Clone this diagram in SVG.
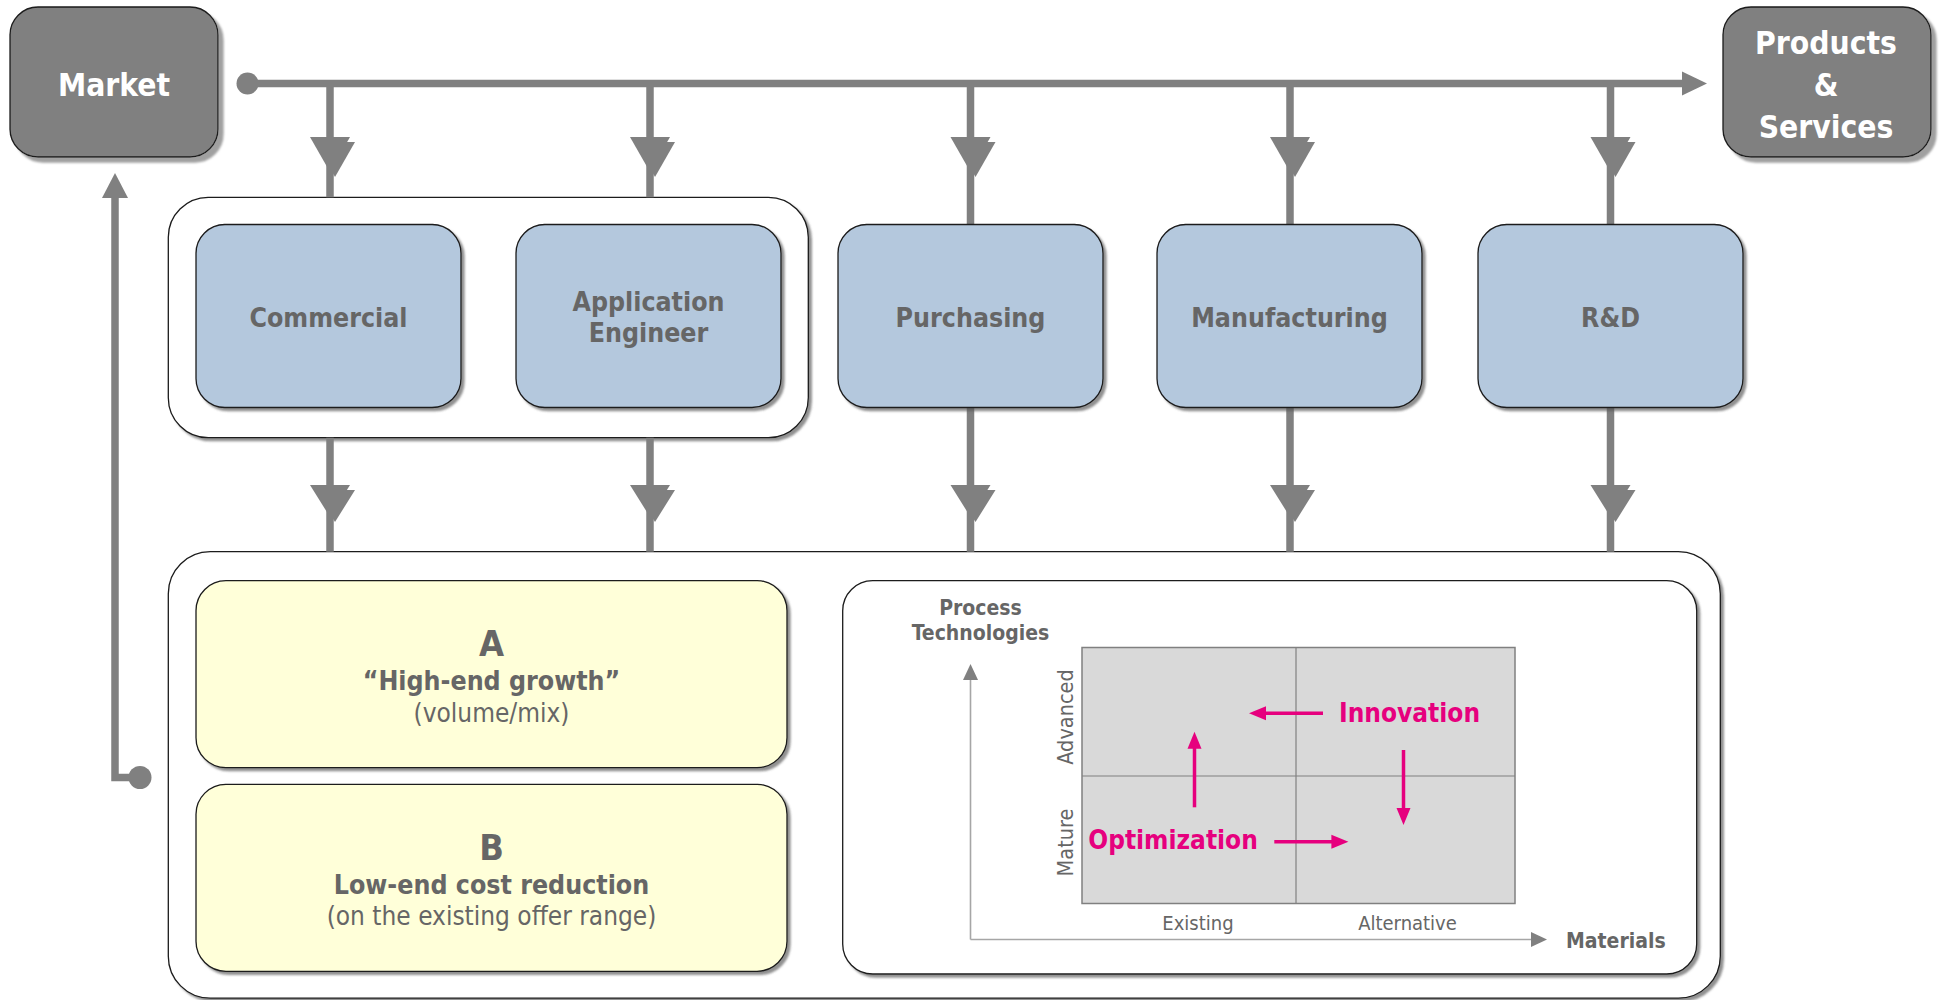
<svg xmlns="http://www.w3.org/2000/svg" width="1943" height="1000" viewBox="0 0 1943 1000">
  <defs>
    <style>
      .txt { font-family: "DejaVu Sans Condensed", "DejaVu Sans", sans-serif; font-stretch: condensed; fill: #666666; text-anchor: middle; }
      .b { font-weight: bold; }
      .white { fill: #ffffff; }
      .pink { fill: #e6007e; }
      .dark { fill: #808080; stroke: #1a1a1a; stroke-width: 1.3; }
      .blue { fill: #b4c8dd; stroke: #1a1a1a; stroke-width: 1.3; }
      .yellow { fill: #ffffd9; stroke: #1a1a1a; stroke-width: 1.3; }
      .frame { fill: #ffffff; stroke: #1a1a1a; stroke-width: 1.3; }
      .conn { stroke: #808080; stroke-width: 7.5; fill: none; }
      .head { fill: #808080; }
      .axis { stroke: #a6a6a6; stroke-width: 1.6; fill: none; }
      .pk { stroke: #e6007e; stroke-width: 3.5; fill: none; }
      .pkh { fill: #e6007e; }
    </style>
    <filter id="shDark" x="-5%" y="-5%" width="115%" height="115%">
      <feDropShadow dx="3" dy="3" stdDeviation="1" flood-color="#555555" flood-opacity="0.65"/>
    </filter>
    <filter id="shLight" x="-5%" y="-5%" width="115%" height="115%">
      <feDropShadow dx="5" dy="5" stdDeviation="0.8" flood-color="#a0a0a0" flood-opacity="1"/>
    </filter>
  </defs>

  <rect width="1943" height="1000" fill="#ffffff"/>

  <!-- containers -->
  <g id="upper-group">
    <rect class="frame" x="168.3" y="197.3" width="640" height="240.4" rx="40" filter="url(#shDark)"/>
  </g>
  <g id="lower-group">
    <rect class="frame" x="168.3" y="551.7" width="1552" height="446.5" rx="42" filter="url(#shDark)"/>
  </g>

  <!-- connectors -->
  <g id="connectors">
    <!-- main flow from Market to Products & Services -->
    <circle class="head" cx="247.5" cy="83.5" r="11"/>
    <line class="conn" x1="247.5" y1="83.5" x2="1684" y2="83.5"/>
    <polygon class="head" points="1682,71.5 1707,83.5 1682,95.5"/>

    <!-- drops into the functions -->
    <line class="conn" x1="330" y1="83.5" x2="330" y2="197.3"/>
    <line class="conn" x1="650" y1="83.5" x2="650" y2="197.3"/>
    <line class="conn" x1="970.5" y1="83.5" x2="970.5" y2="224.5"/>
    <line class="conn" x1="1290" y1="83.5" x2="1290" y2="224.5"/>
    <line class="conn" x1="1610.5" y1="83.5" x2="1610.5" y2="224.5"/>
    <g class="head">
      <polygon points="315,142 355,142 335,177"/><polygon points="310,137 350,137 330,172"/>
      <polygon points="635,142 675,142 655,177"/><polygon points="630,137 670,137 650,172"/>
      <polygon points="955.5,142 995.5,142 975.5,177"/><polygon points="950.5,137 990.5,137 970.5,172"/>
      <polygon points="1275,142 1315,142 1295,177"/><polygon points="1270,137 1310,137 1290,172"/>
      <polygon points="1595.5,142 1635.5,142 1615.5,177"/><polygon points="1590.5,137 1630.5,137 1610.5,172"/>
    </g>

    <!-- drops into the strategy block -->
    <line class="conn" x1="330" y1="437.7" x2="330" y2="551.7"/>
    <line class="conn" x1="650" y1="437.7" x2="650" y2="551.7"/>
    <line class="conn" x1="970.5" y1="407.7" x2="970.5" y2="551.7"/>
    <line class="conn" x1="1290" y1="407.7" x2="1290" y2="551.7"/>
    <line class="conn" x1="1610.5" y1="407.7" x2="1610.5" y2="551.7"/>
    <g class="head">
      <polygon points="315,490 355,490 335,522"/><polygon points="310,485 350,485 330,517"/>
      <polygon points="635,490 675,490 655,522"/><polygon points="630,485 670,485 650,517"/>
      <polygon points="955.5,490 995.5,490 975.5,522"/><polygon points="950.5,485 990.5,485 970.5,517"/>
      <polygon points="1275,490 1315,490 1295,522"/><polygon points="1270,485 1310,485 1290,517"/>
      <polygon points="1595.5,490 1635.5,490 1615.5,522"/><polygon points="1590.5,485 1630.5,485 1610.5,517"/>
    </g>

    <!-- feedback loop back to Market -->
    <polyline class="conn" points="140,777.5 115,777.5 115,196"/>
    <polygon class="head" points="102,198 128,198 115,173"/>
    <circle class="head" cx="140" cy="777.5" r="11.5"/>
  </g>

  <!-- end points -->
  <g id="market">
    <rect class="dark" x="10" y="7" width="208" height="150" rx="28" filter="url(#shLight)"/>
    <text class="txt b white" x="114" y="96" font-size="31.5">Market</text>
  </g>
  <g id="products-services">
    <rect class="dark" x="1723" y="7" width="208" height="150" rx="28" filter="url(#shLight)"/>
    <text class="txt b white" x="1826" y="54" font-size="31.5">Products</text>
    <text class="txt b white" x="1826" y="96" font-size="31.5">&amp;</text>
    <text class="txt b white" x="1826" y="138" font-size="31.5">Services</text>
  </g>

  <!-- functions -->
  <g id="commercial">
    <rect class="blue" x="196" y="224.5" width="265" height="183" rx="29" filter="url(#shDark)"/>
    <text class="txt b" x="328.5" y="326.7" font-size="26.5">Commercial</text>
  </g>
  <g id="application-engineer">
    <rect class="blue" x="516" y="224.5" width="265" height="183" rx="29" filter="url(#shDark)"/>
    <text class="txt b" x="648.5" y="310.5" font-size="26.5">Application</text>
    <text class="txt b" x="648.5" y="342" font-size="26.5">Engineer</text>
  </g>
  <g id="purchasing">
    <rect class="blue" x="838" y="224.5" width="265" height="183" rx="29" filter="url(#shDark)"/>
    <text class="txt b" x="970.5" y="326.7" font-size="26.5">Purchasing</text>
  </g>
  <g id="manufacturing">
    <rect class="blue" x="1157" y="224.5" width="265" height="183" rx="29" filter="url(#shDark)"/>
    <text class="txt b" x="1289.5" y="326.7" font-size="26.5">Manufacturing</text>
  </g>
  <g id="rnd">
    <rect class="blue" x="1478" y="224.5" width="265" height="183" rx="29" filter="url(#shDark)"/>
    <text class="txt b" x="1610.5" y="326.7" font-size="26.5">R&amp;D</text>
  </g>

  <!-- strategies -->
  <g id="strategy-a">
    <rect class="yellow" x="196" y="580.7" width="591" height="187" rx="30" filter="url(#shDark)"/>
    <text class="txt b" x="491.5" y="656" font-size="36">A</text>
    <text class="txt b" x="491.5" y="690" font-size="26.5">“High-end growth”</text>
    <text class="txt" x="491.5" y="721.5" font-size="26">(volume/mix)</text>
  </g>
  <g id="strategy-b">
    <rect class="yellow" x="196" y="784.3" width="591" height="187" rx="30" filter="url(#shDark)"/>
    <text class="txt b" x="491.5" y="859.6" font-size="36">B</text>
    <text class="txt b" x="491.5" y="893.6" font-size="26.5">Low-end cost reduction</text>
    <text class="txt" x="491.5" y="925.3" font-size="26">(on the existing offer range)</text>
  </g>

  <!-- materials / process technologies matrix -->
  <g id="matrix">
    <rect class="frame" x="842.7" y="580.7" width="854" height="393.3" rx="30" filter="url(#shDark)"/>
    <rect x="1082" y="647.5" width="433" height="256" fill="#d9d9d9" stroke="#808080" stroke-width="1.5"/>
    <line x1="1296" y1="647.5" x2="1296" y2="903.5" stroke="#808080" stroke-width="1.2"/>
    <line x1="1082" y1="776" x2="1515" y2="776" stroke="#808080" stroke-width="1.2"/>

    <line class="axis" x1="970.5" y1="939.5" x2="970.5" y2="679"/>
    <polygon class="head" points="963,680 978,680 970.5,664"/>
    <line class="axis" x1="970.5" y1="939.5" x2="1532" y2="939.5"/>
    <polygon class="head" points="1531,932 1531,947 1547,939.5"/>

    <text class="txt b" x="980.5" y="615" font-size="21">Process</text>
    <text class="txt b" x="980.5" y="639.5" font-size="21">Technologies</text>
    <text class="txt b" x="1566" y="947.7" font-size="21" style="text-anchor:start">Materials</text>
    <text class="txt" x="1198" y="930" font-size="20">Existing</text>
    <text class="txt" x="1407.5" y="930" font-size="20">Alternative</text>
    <text class="txt" transform="translate(1073 717) rotate(-90)" font-size="21.5">Advanced</text>
    <text class="txt" transform="translate(1073 842.5) rotate(-90)" font-size="21.5">Mature</text>

    <text class="txt b pink" x="1339" y="721.7" font-size="26" style="text-anchor:start">Innovation</text>
    <text class="txt b pink" x="1088.3" y="849.3" font-size="26" style="text-anchor:start">Optimization</text>

    <line class="pk" x1="1323" y1="713.3" x2="1264" y2="713.3"/>
    <polygon class="pkh" points="1266,706.3 1266,720.3 1249,713.3"/>
    <line class="pk" x1="1194.5" y1="807.3" x2="1194.5" y2="746"/>
    <polygon class="pkh" points="1187.5,748.7 1201.5,748.7 1194.5,731.7"/>
    <line class="pk" x1="1403.5" y1="750" x2="1403.5" y2="810"/>
    <polygon class="pkh" points="1396.5,808 1410.5,808 1403.5,825"/>
    <line class="pk" x1="1274.3" y1="841.7" x2="1334" y2="841.7"/>
    <polygon class="pkh" points="1331.4,834.7 1331.4,848.7 1348.4,841.7"/>
  </g>
</svg>
